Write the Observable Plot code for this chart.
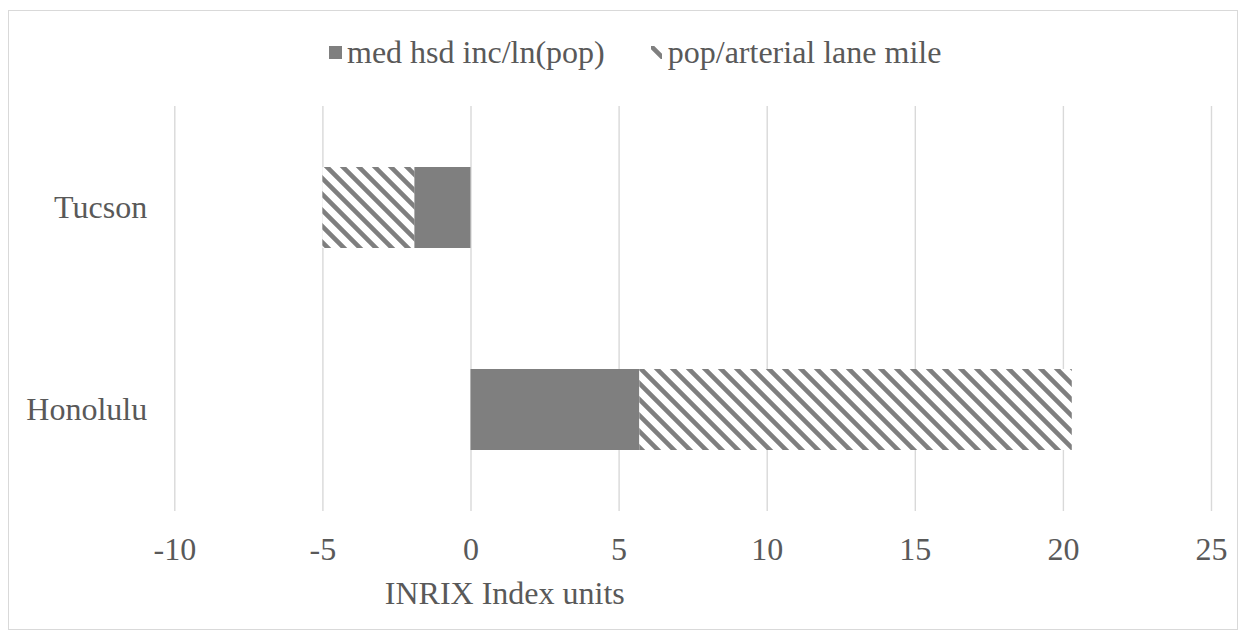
<!DOCTYPE html>
<html><head><meta charset="utf-8">
<script src="https://cdn.jsdelivr.net/npm/d3@7"></script>
<script src="https://cdn.jsdelivr.net/npm/@observablehq/plot@0.6"></script>
<style>
html,body{margin:0;padding:0;background:#fff;}
body{width:1246px;height:639px;position:relative;overflow:hidden;font-family:'Liberation Serif','Times New Roman',serif;color:#595959;}
#frame{position:absolute;left:8px;top:10px;width:1230px;height:620px;border:1.5px solid #d9d9d9;box-sizing:border-box;}
#chart{position:absolute;left:0;top:0;}
#chart svg, #chart svg text{font-family:'Liberation Serif','Times New Roman',serif !important;}
#legend{position:absolute;left:329px;top:36px;height:32px;display:flex;align-items:center;font-size:32px;line-height:32px;white-space:nowrap;}
#legend .sw{display:inline-block;}
#defs{position:absolute;width:0;height:0;}
</style>
</head>
<body>
<svg id="defs" width="0" height="0">
  <defs>
    <pattern id="hatch" patternUnits="userSpaceOnUse" width="16" height="16">
      <rect width="16" height="16" fill="#ffffff"/>
      <path d="M-4,-4 L20,20 M-4,12 L4,20 M12,-4 L20,4" stroke="#7f7f7f" stroke-width="4.6" fill="none"/>
    </pattern>
  </defs>
</svg>
<div id="frame"></div>
<div id="chart"></div>
<div id="legend">
  <svg class="sw" width="13" height="13" style="margin-right:5px"><rect width="13" height="13" fill="#7f7f7f"/></svg>
  <span>med hsd inc/ln(pop)</span>
  <svg class="sw" width="11" height="13" style="margin-left:46px;margin-right:6px"><rect width="11" height="13" fill="url(#hatch)"/></svg>
  <span>pop/arterial lane mile</span>
</div>
<script>
const cities = ["Tucson", "Honolulu"];
const seriesNames = ["med hsd inc/ln(pop)", "pop/arterial lane mile"];
const medHsdInc = [-1.9, 5.7];
const popArterial = [-3.1, 14.6];
const xTicks = [-10, -5, 0, 5, 10, 15, 20, 25];
const xLabel = "INRIX Index units";

const data = [];
cities.forEach((c, i) => {
  data.push({city: c, series: seriesNames[0], value: medHsdInc[i]});
  data.push({city: c, series: seriesNames[1], value: popArterial[i]});
});

const fontSize = 32;
const plot = Plot.plot({
  width: 1246,
  height: 639,
  marginTop: 106,
  marginBottom: 128,
  marginLeft: 174.3,
  marginRight: 35,
  style: {fontFamily: "'Liberation Serif','Times New Roman',serif", fontSize: fontSize + "px", color: "#595959", background: "transparent"},
  x: {domain: [-10, 25], ticks: xTicks, tickFormat: d => String(d), label: null},
  y: {domain: cities, paddingInner: 0.6, paddingOuter: 0.3, label: null},
  color: {domain: seriesNames, range: ["#7f7f7f", "url(#hatch)"]},
  marks: [
    Plot.gridX(xTicks, {stroke: "#d9d9d9", strokeOpacity: 1, strokeWidth: 1.4}),
    Plot.barX(data, Plot.stackX({y: "city", x: "value", fill: "series", order: seriesNames, inset: 0})),
    Plot.axisX(xTicks, {tickSize: 0, tickPadding: 26, tickFormat: d => String(d), fontSize: fontSize, fill: "#595959", label: null}),
    Plot.axisY({tickSize: 0, tickPadding: 27.6, fontSize: fontSize, fill: "#595959", label: null}),
    Plot.text([xLabel], {frameAnchor: "bottom-left", dx: 330, dy: 82, textAnchor: "middle", lineAnchor: "middle", fontSize: fontSize, fill: "#595959"})
  ]
});
document.getElementById("chart").appendChild(plot);
</script>
</body></html>
